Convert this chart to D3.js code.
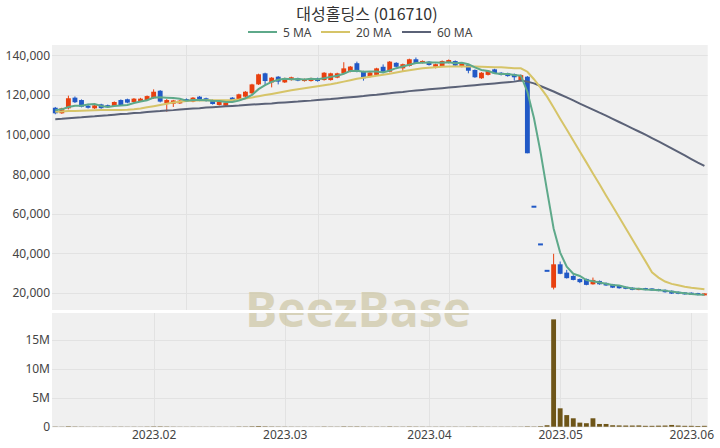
<!DOCTYPE html>
<html><head><meta charset="utf-8">
<script src="https://cdn.jsdelivr.net/npm/d3@7"></script>
<style>body{margin:0;background:#fff}svg{display:block}text{font-family:"Noto Sans","Noto Sans CJK KR",sans-serif}</style>
</head><body><svg id="c" width="720" height="448"></svg>
<script>
const title = "대성홀딩스 (016710)";
const dates = [
"2023-01-09","2023-01-10","2023-01-11","2023-01-12","2023-01-13","2023-01-16","2023-01-17","2023-01-18","2023-01-19","2023-01-20","2023-01-25","2023-01-26","2023-01-27","2023-01-30","2023-01-31",
"2023-02-01","2023-02-02","2023-02-03","2023-02-06","2023-02-07","2023-02-08","2023-02-09","2023-02-10","2023-02-13","2023-02-14","2023-02-15","2023-02-16","2023-02-17","2023-02-20","2023-02-21","2023-02-22","2023-02-23","2023-02-24","2023-02-27","2023-02-28",
"2023-03-02","2023-03-03","2023-03-06","2023-03-07","2023-03-08","2023-03-09","2023-03-10","2023-03-13","2023-03-14","2023-03-15","2023-03-16","2023-03-17","2023-03-20","2023-03-21","2023-03-22","2023-03-23","2023-03-24","2023-03-27","2023-03-28","2023-03-29","2023-03-30","2023-03-31",
"2023-04-03","2023-04-04","2023-04-05","2023-04-06","2023-04-07","2023-04-10","2023-04-11","2023-04-12","2023-04-13","2023-04-14","2023-04-17","2023-04-18","2023-04-19","2023-04-20","2023-04-21","2023-04-24","2023-04-25","2023-04-26","2023-04-27","2023-04-28",
"2023-05-02","2023-05-03","2023-05-04","2023-05-08","2023-05-09","2023-05-10","2023-05-11","2023-05-12","2023-05-15","2023-05-16","2023-05-17","2023-05-18","2023-05-19","2023-05-22","2023-05-23","2023-05-24","2023-05-25","2023-05-26","2023-05-30","2023-05-31",
"2023-06-01","2023-06-02","2023-06-05"];
const opens = [113600,110800,113300,118700,117500,114600,113300,115300,114800,114500,117500,117900,116500,117000,117500,118400,122200,115800,115600,115800,118000,116700,119200,118400,117500,115000,114600,118700,117400,119200,120900,125400,131000,126400,129300,126400,127600,128500,127100,127100,128500,127600,127600,128800,131000,131800,136100,132000,129200,130200,134300,131800,136300,133500,134700,138100,136300,136900,134300,134700,136300,137200,134300,135200,132700,128500,130200,133000,131300,131000,130600,127600,129300,63800,44700,31300,22700,34500,30300,28600,27100,27100,24400,26100,25100,24400,23700,23100,22700,21600,22400,22200,21900,21600,21100,20600,20200,20100,19900,19000];
const highs = [114000,113600,119700,119300,117800,115600,115000,115600,115200,116800,117800,118200,118500,118600,119800,122900,122500,118000,117600,117500,118300,119000,119500,118700,117800,117000,116500,119000,120700,122000,125700,130800,131300,129100,129600,128800,129300,128800,128400,128800,128800,131600,131300,131300,136600,134700,136900,132300,131700,133800,135500,137200,136600,135900,138400,139000,137500,137200,135900,137500,138000,137500,136400,135500,133000,131600,132600,133300,131600,131300,130900,130400,129600,63800,44700,31300,39800,35900,31700,29000,27300,27300,27800,26300,25300,24600,23900,23300,22900,22600,22600,22400,22100,21800,21300,20800,20400,20300,20100,19800];
const lows = [110300,110500,112800,116000,113800,113200,113000,113100,113600,114200,114600,115900,116200,116800,117200,118100,116300,111600,114000,115500,116700,116400,116900,116700,115200,114700,114300,116700,117100,118900,120600,125100,124800,123900,125400,126100,127300,127000,126800,126800,126800,127300,127300,128500,130700,131500,131500,127300,128900,129900,131500,131500,134000,132000,134400,135800,136000,134900,133500,134400,136000,134600,134000,131000,128700,128200,129900,130700,129900,129300,127300,127300,90600,63400,44400,31100,21800,29500,27300,26400,25000,23900,24200,24200,23600,22500,22200,21900,21400,21400,21400,21200,20900,20200,19500,19400,19200,19000,18800,18800];
const closes = [110800,113300,118400,116400,114100,113600,114800,113400,114000,116500,114900,116200,118200,118200,119500,121700,116700,117500,117300,117200,117000,118700,117200,117000,115500,116700,116200,117000,120400,121700,125400,130500,127100,128800,126800,128500,129000,127300,128100,128500,127100,131300,131000,131000,133500,134400,131800,128500,131400,133500,131800,136900,134300,135600,138100,136100,137200,135200,135600,137200,137700,134900,136100,132300,129000,131300,132300,131000,130200,129600,129000,130100,90600,63400,44400,31100,34500,29700,27500,26600,25500,24100,26600,24400,23800,22700,22400,22100,21600,22400,21600,21400,21100,20400,19700,19600,19400,19200,19000,19600];
const volumes = [35000,25000,70000,40000,30000,22000,20000,25000,18000,28000,30000,22000,25000,20000,33000,55000,60000,45000,28000,22000,20000,25000,22000,18000,25000,20000,18000,22000,42000,40000,72000,105000,66000,45000,36000,30000,25000,22000,20000,18000,20000,42000,30000,25000,58000,45000,50000,39000,28000,33000,28000,55000,33000,30000,47000,36000,25000,22000,25000,28000,25000,28000,22000,36000,42000,30000,25000,22000,20000,20000,25000,28000,60000,40000,90000,250000,18500000,3170000,2000000,1450000,700000,600000,1450000,470000,470000,250000,220000,200000,200000,220000,150000,150000,180000,200000,300000,200000,150000,150000,120000,150000];
const ma5 = [112400,112800,114000,114600,114600,115200,115500,114500,114000,114500,114700,115000,116000,116800,117400,118800,118900,118700,118500,118100,117100,117500,117500,117400,117100,117000,116500,116500,117200,118400,120100,123000,125000,126700,127700,128300,128000,128100,127900,128300,128000,128500,129200,129800,130800,132200,132300,131800,131900,131900,131400,132400,133600,134400,135300,136200,136300,136400,136400,136300,136600,136100,136300,135600,134000,132700,132200,131000,130600,130700,130200,129800,121700,108400,91300,71700,52600,40400,33300,29700,28600,26500,25900,25300,24700,24100,23800,22900,22300,22100,21800,21600,21400,21200,20700,20300,19900,19500,19200,19100];
const ma20 = [111600,111700,111900,112000,112100,112200,112300,112400,112400,112500,112500,112600,112800,113200,113800,114400,115000,115600,116200,116600,117000,117200,117300,117400,117400,117400,117400,117500,117800,118300,118800,119400,120000,120600,121200,121800,122400,123000,123500,124000,124500,125000,125500,126100,126800,127500,128200,128800,129300,129800,130300,130800,131400,132000,132600,133100,133500,133800,134100,134300,134400,134500,134500,134500,134400,134300,134200,134100,134000,133800,133600,133500,131800,128000,123800,119200,113700,108100,102600,97000,91500,86000,80400,74900,69300,63800,58300,52700,47200,41600,36100,30500,27800,25800,24600,23900,23200,22700,22300,21900];
const ma60 = [107800,108000,108300,108600,108800,109100,109300,109600,109800,110100,110400,110600,110900,111100,111400,111700,111900,112200,112400,112700,113000,113200,113400,113700,113900,114100,114300,114500,114700,115000,115200,115400,115600,115800,116100,116300,116500,116700,117000,117200,117500,117800,118000,118300,118600,118900,119200,119500,119900,120200,120600,120900,121300,121600,122000,122300,122600,122900,123200,123500,123800,124100,124400,124700,125000,125300,125600,125900,126200,126500,126800,127300,126800,125900,124600,123200,121800,120300,118800,117300,115700,114200,112700,111100,109600,108000,106400,104800,103200,101600,100000,98300,96600,94900,93100,91300,89500,87700,85900,84200];
const priceTicks = [20000,40000,60000,80000,100000,120000,140000];
const volTicks = [0,5000000,10000000,15000000];
const volTickLabels = ["0","5M","10M","15M"];
const monthTickDates = ["2023-02-01","2023-03-02","2023-04-03","2023-05-02","2023-06-01"];
const monthTickLabels = ["2023.02","2023.03","2023.04","2023.05","2023.06"];
const topGridDates = ["2023-02-08","2023-03-09","2023-04-06","2023-05-08"];
const maNames = ["5 MA","20 MA","60 MA"];

const C = {up:"#e8400f", down:"#2159c6", vol:"#6e5518", ma5:"#5ea98a", ma20:"#d6c468", ma60:"#5b6277", bg:"#f0f0f0", grid:"#e2e2e2", text:"#444"};
const svg = d3.select("#c");
const L = 52, R = 707.7;
const topY0 = 45, topY1 = 310, botY0 = 313, botY1 = 426.7;
const x = d3.scalePoint().domain(dates).range([L, R]).padding(0.5);
const yP = d3.scaleLinear().domain([11410, 145305]).range([topY1, topY0]);
const yV = d3.scaleLinear().domain([0, 19600000]).range([botY1, botY0]);
const bw = x.step() * 0.74;

svg.append("rect").attr("x",L).attr("y",topY0).attr("width",R-L).attr("height",topY1-topY0).attr("fill",C.bg);
svg.append("rect").attr("x",L).attr("y",botY0).attr("width",R-L).attr("height",botY1-botY0).attr("fill",C.bg);

// grids
const gTop = svg.append("g");
gTop.selectAll("line.h").data(priceTicks).join("line").attr("x1",L).attr("x2",R)
  .attr("y1",d=>Math.round(yP(d))+0.5).attr("y2",d=>Math.round(yP(d))+0.5).attr("stroke",C.grid);
gTop.selectAll("line.v").data(topGridDates).join("line").attr("y1",topY0).attr("y2",topY1)
  .attr("x1",d=>Math.round(x(d))+0.5).attr("x2",d=>Math.round(x(d))+0.5).attr("stroke",C.grid);
const gBot = svg.append("g");
gBot.selectAll("line.h").data(volTicks.slice(1)).join("line").attr("x1",L).attr("x2",R)
  .attr("y1",d=>Math.round(yV(d))+0.5).attr("y2",d=>Math.round(yV(d))+0.5).attr("stroke",C.grid);
gBot.selectAll("line.v").data(monthTickDates).join("line").attr("y1",botY0).attr("y2",botY1)
  .attr("x1",d=>Math.round(x(d))+0.5).attr("x2",d=>Math.round(x(d))+0.5).attr("stroke",C.grid);
svg.append("line").attr("x1",L).attr("x2",R).attr("y1",botY1).attr("y2",botY1).attr("stroke","#d8d8d8");

// watermark
svg.append("text").attr("x",358).attr("y",327).attr("text-anchor","middle")
  .style("font-family","'Open Sans','Noto Sans',sans-serif").style("font-weight","700").style("font-size","48px")
  .attr("fill","#cfc8a8").attr("opacity",0.75).text("BeezBase");
svg.append("rect").attr("x",L).attr("y",topY1).attr("width",R-L).attr("height",botY0-topY1).attr("fill","#fff");

// axes
const ax = svg.append("g").attr("transform",`translate(${L-2},0)`)
  .call(d3.axisLeft(yP).tickValues(priceTicks).tickSize(0).tickPadding(0).tickFormat(d3.format(",")));
const axV = svg.append("g").attr("transform",`translate(${L-2},0)`)
  .call(d3.axisLeft(yV).tickValues(volTicks).tickSize(0).tickPadding(0).tickFormat((d,i)=>volTickLabels[i]));
const axX = svg.append("g").attr("transform",`translate(0,${botY1})`)
  .call(d3.axisBottom(x).tickValues(monthTickDates).tickSize(0).tickPadding(4).tickFormat((d,i)=>monthTickLabels[i]));
[ax,axV,axX].forEach(a=>{a.select(".domain").remove();a.selectAll("text").attr("fill",C.text).style("font-size","12px");});

// data rows
const rows = dates.map((d,i)=>({d,o:opens[i],h:highs[i],l:lows[i],c:closes[i],v:volumes[i]}));

// volume
svg.append("g").selectAll("rect").data(rows).join("rect")
  .attr("x",r=>x(r.d)-bw/2).attr("width",bw)
  .attr("y",r=>yV(r.v)).attr("height",r=>botY1-yV(r.v)).attr("fill",C.vol);

// candles
const gc = svg.append("g");
gc.selectAll("line").data(rows).join("line")
  .attr("x1",r=>x(r.d)).attr("x2",r=>x(r.d)).attr("y1",r=>yP(r.h)).attr("y2",r=>yP(r.l))
  .attr("stroke",r=>r.c>=r.o?C.up:C.down).attr("stroke-width",1);
gc.selectAll("rect").data(rows).join("rect")
  .attr("x",r=>x(r.d)-bw/2).attr("width",bw)
  .attr("y",r=>{const t=yP(Math.max(r.o,r.c)),b=yP(Math.min(r.o,r.c));return b-t<2?(t+b)/2-1:t;})
  .attr("height",r=>Math.max(2,yP(Math.min(r.o,r.c))-yP(Math.max(r.o,r.c))))
  .attr("fill",r=>r.c>=r.o?C.up:C.down);

// MAs
const line = d3.line().x((v,i)=>x(dates[i])).y(v=>yP(v));
[[ma60,C.ma60],[ma20,C.ma20],[ma5,C.ma5]].forEach(([s,col])=>{
  svg.append("path").datum(s).attr("d",line).attr("fill","none").attr("stroke",col).attr("stroke-width",2);
});

// title & legend
svg.append("text").attr("x",367).attr("y",20).attr("text-anchor","middle")
  .style("font-family","'Noto Sans CJK KR',sans-serif").style("font-size","16px").attr("fill","#333").text(title);
const legCols = [C.ma5,C.ma20,C.ma60];
const legX = [248,321,402];
const lg = svg.append("g");
maNames.forEach((n,i)=>{
  lg.append("line").attr("x1",legX[i]).attr("x2",legX[i]+29).attr("y1",32).attr("y2",32).attr("stroke",legCols[i]).attr("stroke-width",2);
  lg.append("text").attr("x",legX[i]+35).attr("y",36.5).style("font-size","12px").attr("fill",C.text).text(n);
});
</script></body></html>
